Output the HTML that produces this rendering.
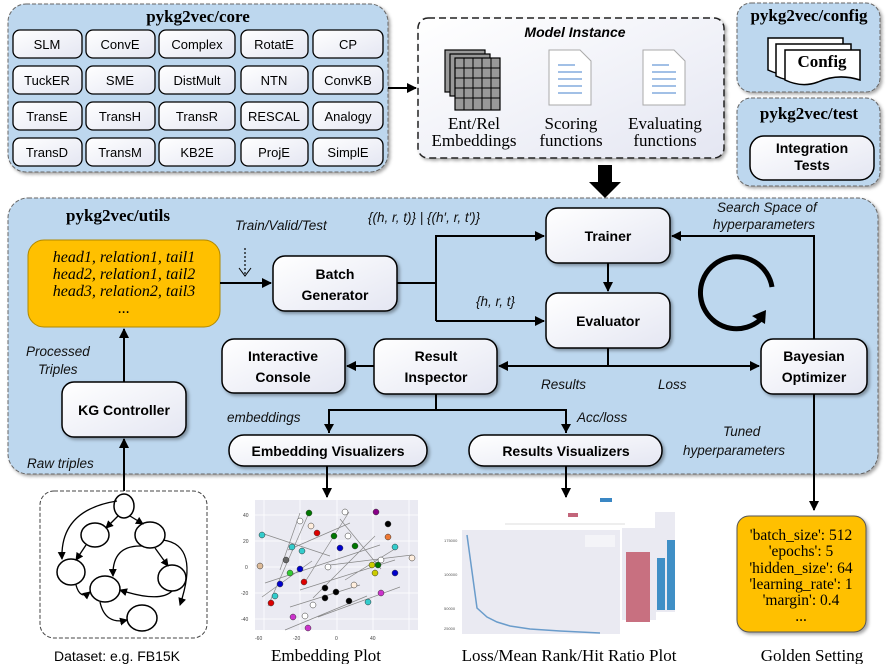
<!DOCTYPE html>
<html><head><meta charset="utf-8"><style>
html,body{margin:0;padding:0;background:#fff;}
svg{display:block;}
.b{font-family:"Liberation Sans",sans-serif;font-weight:bold;font-size:14px;fill:#000;}
.n{font-family:"Liberation Sans",sans-serif;font-size:13px;fill:#000;}
.s{font-family:"Liberation Serif",serif;font-weight:bold;font-size:17px;fill:#000;}
.i{font-family:"Liberation Sans",sans-serif;font-style:italic;font-size:13.5px;fill:#111;}
.sr{font-family:"Liberation Serif",serif;font-size:17px;fill:#000;}
</style></head><body>
<svg width="886" height="664" viewBox="0 0 886 664" xmlns="http://www.w3.org/2000/svg">
<defs>
<marker id="a" markerWidth="10" markerHeight="10" refX="9" refY="5" orient="auto" markerUnits="userSpaceOnUse"><path d="M0,0 L10,5 L0,10 z" fill="#000"/></marker>
<marker id="sa" markerWidth="8" markerHeight="8" refX="7" refY="4" orient="auto" markerUnits="userSpaceOnUse"><path d="M0,0 L8,4 L0,8 z" fill="#000"/></marker>
<linearGradient id="g" x1="0" y1="0" x2="1" y2="1"><stop offset="0" stop-color="#fff"/><stop offset="1" stop-color="#e4e6f2"/></linearGradient>
<filter id="sh" x="-10%" y="-10%" width="130%" height="130%"><feDropShadow dx="2" dy="2" stdDeviation="1.5" flood-color="#000" flood-opacity="0.35"/></filter>
</defs>

<rect x="8" y="4" width="380" height="168" rx="18" fill="#bdd7ee" stroke="#666" stroke-dasharray="4,2" filter="url(#sh)"/>
<text x="198" y="22" text-anchor="middle" class="s">pykg2vec/core</text>
<g stroke="#000" stroke-width="1.3" fill="url(#g)">
<rect x="13" y="30" width="69" height="28" rx="7"/><rect x="86" y="30" width="69" height="28" rx="7"/><rect x="159" y="30" width="76" height="28" rx="7"/><rect x="241" y="30" width="67" height="28" rx="7"/><rect x="313" y="30" width="70" height="28" rx="7"/>
<rect x="13" y="66" width="69" height="28" rx="7"/><rect x="86" y="66" width="69" height="28" rx="7"/><rect x="159" y="66" width="76" height="28" rx="7"/><rect x="241" y="66" width="67" height="28" rx="7"/><rect x="313" y="66" width="70" height="28" rx="7"/>
<rect x="13" y="102" width="69" height="28" rx="7"/><rect x="86" y="102" width="69" height="28" rx="7"/><rect x="159" y="102" width="76" height="28" rx="7"/><rect x="241" y="102" width="67" height="28" rx="7"/><rect x="313" y="102" width="70" height="28" rx="7"/>
<rect x="13" y="138" width="69" height="28" rx="7"/><rect x="86" y="138" width="69" height="28" rx="7"/><rect x="159" y="138" width="76" height="28" rx="7"/><rect x="241" y="138" width="67" height="28" rx="7"/><rect x="313" y="138" width="70" height="28" rx="7"/>
</g>
<g class="n" text-anchor="middle">
<text x="47" y="49">SLM</text><text x="120" y="49">ConvE</text><text x="197" y="49">Complex</text><text x="274" y="49">RotatE</text><text x="348" y="49">CP</text>
<text x="47" y="85">TuckER</text><text x="120" y="85">SME</text><text x="197" y="85">DistMult</text><text x="274" y="85">NTN</text><text x="348" y="85">ConvKB</text>
<text x="47" y="121">TransE</text><text x="120" y="121">TransH</text><text x="197" y="121">TransR</text><text x="274" y="121">RESCAL</text><text x="348" y="121">Analogy</text>
<text x="47" y="157">TransD</text><text x="120" y="157">TransM</text><text x="197" y="157">KB2E</text><text x="274" y="157">ProjE</text><text x="348" y="157">SimplE</text>
</g>
<line x1="388" y1="88" x2="416" y2="88" stroke="#000" stroke-width="2" marker-end="url(#a)"/>

<rect x="418" y="18" width="306" height="140" rx="10" fill="url(#g)" stroke="#222" stroke-width="1.5" stroke-dasharray="7,4" filter="url(#sh)"/>
<text x="575" y="37" text-anchor="middle" style="font-family:'Liberation Sans',sans-serif;font-weight:bold;font-style:italic;font-size:14px">Model Instance</text>
<g stroke="#000" stroke-width="1.2" fill="#999">
<rect x="445" y="50" width="40" height="42"/><rect x="450" y="54" width="40" height="42"/><rect x="455" y="58" width="45" height="52"/>
</g>
<g stroke="#000" stroke-width="1">
<path d="M464,58V110M473,58V110M482,58V110M491,58V110M455,68H500M455,78H500M455,88H500M455,98H500"/>
</g>
<g stroke="#aaa" fill="#fff">
<path d="M549,50 H580 L591,61 V105 H549 Z"/><path d="M643,50 H674 L685,61 V105 H643 Z"/>
</g>
<g stroke="#6b9bd8" stroke-width="1.2">
<path d="M558,65H575M558,72H582M558,79H582M558,86H582M558,93H582"/>
<path d="M652,65H669M652,72H676M652,79H676M652,86H676M652,93H676"/>
</g>
<g class="sr" text-anchor="middle">
<text x="474" y="129">Ent/Rel</text><text x="474" y="146">Embeddings</text>
<text x="571" y="129">Scoring</text><text x="571" y="146">functions</text>
<text x="665" y="129">Evaluating</text><text x="665" y="146">functions</text>
</g>

<rect x="737" y="3" width="143" height="89" rx="14" fill="#bdd7ee" stroke="#666" stroke-dasharray="4,2" filter="url(#sh)"/>
<text x="809" y="21" text-anchor="middle" class="s">pykg2vec/config</text>
<g stroke="#000" stroke-width="1.5" fill="#fff">
<path d="M768,38 H843 V70 Q820,63 800,72 Q785,78 768,70 Z"/>
<path d="M776,44 H851 V76 Q828,69 808,78 Q793,84 776,76 Z"/>
<path d="M785,50 H860 V80 Q838,73 818,82 Q802,88 785,80 Z"/>
</g>
<text x="822" y="67" text-anchor="middle" class="s">Config</text>

<rect x="737" y="98" width="143" height="88" rx="14" fill="#bdd7ee" stroke="#666" stroke-dasharray="4,2" filter="url(#sh)"/>
<text x="809" y="119" text-anchor="middle" class="s">pykg2vec/test</text>
<rect x="750" y="136" width="124" height="44" rx="14" fill="url(#g)" stroke="#000" stroke-width="1.5"/>
<text x="812" y="153" text-anchor="middle" class="b">Integration</text>
<text x="812" y="170" text-anchor="middle" class="b">Tests</text>

<path d="M598,165 H612 V182 H621 L605,198 L589,182 H598 Z" fill="#000"/>

<rect x="8" y="198" width="870" height="276" rx="20" fill="#bdd7ee" stroke="#666" stroke-dasharray="4,2" filter="url(#sh)"/>
<text x="118" y="221" text-anchor="middle" class="s">pykg2vec/utils</text>

<rect x="28" y="240" width="192" height="87" rx="16" fill="#ffc000" stroke="#b08800"/>
<g text-anchor="middle" style="font-family:'Liberation Serif',serif;font-style:italic;font-size:16px">
<text x="124" y="262">head1, relation1, tail1</text>
<text x="124" y="279">head2, relation1, tail2</text>
<text x="124" y="296">head3, relation2, tail3</text>
<text x="124" y="313">...</text>
</g>

<g stroke="#000" stroke-width="1.5" fill="url(#g)" filter="url(#sh)">
<rect x="273" y="256" width="124" height="55" rx="12"/>
<rect x="546" y="208" width="124" height="55" rx="12"/>
<rect x="546" y="293" width="124" height="55" rx="12"/>
<rect x="222" y="339" width="123" height="54" rx="12"/>
<rect x="374" y="339" width="123" height="55" rx="12"/>
<rect x="761" y="339" width="106" height="55" rx="12"/>
<rect x="62" y="382" width="124" height="55" rx="12"/>
<rect x="229" y="435" width="198" height="31" rx="15"/>
<rect x="469" y="435" width="193" height="31" rx="15"/>
</g>
<g class="b" text-anchor="middle">
<text x="335" y="279">Batch</text><text x="335" y="300">Generator</text>
<text x="608" y="241">Trainer</text>
<text x="608" y="326">Evaluator</text>
<text x="283" y="361">Interactive</text><text x="283" y="382">Console</text>
<text x="436" y="361">Result</text><text x="436" y="382">Inspector</text>
<text x="814" y="361">Bayesian</text><text x="814" y="382">Optimizer</text>
<text x="124" y="415">KG Controller</text>
<text x="328" y="456">Embedding Visualizers</text>
<text x="566" y="456">Results Visualizers</text>
</g>

<g stroke="#000" stroke-width="2" fill="none">
<line x1="220" y1="283" x2="271" y2="283" marker-end="url(#a)"/>
<polyline points="397,283 436,283"/>
<polyline points="436,321 436,236 544,236" marker-end="url(#a)"/>
<polyline points="436,321 544,321" marker-end="url(#a)"/>
<line x1="608" y1="263" x2="608" y2="291" marker-end="url(#a)"/>
<line x1="608" y1="348" x2="608" y2="366"/>
<line x1="608" y1="366" x2="499" y2="366" marker-end="url(#a)"/>
<line x1="608" y1="366" x2="759" y2="366" marker-end="url(#a)"/>
<polyline points="814,339 814,236 672,236" marker-end="url(#a)"/>
<line x1="814" y1="394" x2="814" y2="510" marker-end="url(#a)"/>
<line x1="374" y1="366" x2="347" y2="366" marker-end="url(#a)"/>
<line x1="436" y1="394" x2="436" y2="410"/>
<polyline points="329,433 329,410 566,410 566,433"/>
<line x1="124" y1="382" x2="124" y2="329" marker-end="url(#a)"/>
<line x1="124" y1="495" x2="124" y2="439" marker-end="url(#a)"/>
<line x1="327" y1="466" x2="327" y2="497" marker-end="url(#a)"/>
<line x1="566" y1="466" x2="566" y2="497" marker-end="url(#a)"/>
</g>
<path d="M329,433 l-5,-9 h10z M566,433 l-5,-9 h10z" fill="#000"/>
<line x1="245" y1="248" x2="245" y2="275" stroke="#000" stroke-width="1.2" stroke-dasharray="2,2"/>
<path d="M239,268 L245,276 L251,268" stroke="#000" fill="none"/>
<path d="M772,287 A36,36 0 1 0 760,320" stroke="#000" stroke-width="5" fill="none"/>
<path d="M752,316 L766,310 L765,324 Z" fill="#000"/>

<g class="i">
<text x="235" y="230">Train/Valid/Test</text>
<text x="368" y="222">{(h, r, t)} | {(h′, r, t′)}</text>
<text x="476" y="306">{h, r, t}</text>
<text x="717" y="212">Search Space of</text>
<text x="713" y="229">hyperparameters</text>
<text x="541" y="389">Results</text>
<text x="658" y="389">Loss</text>
<text x="227" y="422">embeddings</text>
<text x="577" y="422">Acc/loss</text>
<text x="723" y="436">Tuned</text>
<text x="683" y="455">hyperparameters</text>
<text x="26" y="356">Processed</text>
<text x="38" y="374">Triples</text>
<text x="27" y="468">Raw triples</text>
</g>

<rect x="40" y="491" width="167" height="147" rx="14" fill="#fff" stroke="#444" stroke-dasharray="4,2"/>
<g stroke="#000" stroke-width="1.5" fill="#fff">
<ellipse cx="124" cy="506" rx="10" ry="12"/>
<ellipse cx="95" cy="535" rx="14" ry="12"/>
<ellipse cx="150" cy="535" rx="15" ry="13"/>
<ellipse cx="71" cy="572" rx="14" ry="13"/>
<ellipse cx="105" cy="589" rx="15" ry="13"/>
<ellipse cx="172" cy="578" rx="14" ry="13"/>
<ellipse cx="142" cy="618" rx="15" ry="13"/>
</g>
<g stroke="#000" stroke-width="1.3" fill="none" marker-end="url(#sa)">
<path d="M118,516 L106,528"/>
<path d="M130,516 L143,524"/>
<path d="M86,545 L76,560"/>
<path d="M117,501 Q60,510 62,559"/>
<path d="M155,548 L168,566"/>
<path d="M142,546 Q112,545 113,576"/>
<path d="M76,585 Q80,600 90,592"/>
<path d="M172,591 Q160,603 120,590"/>
<path d="M100,602 Q105,625 127,620"/>
<path d="M163,540 Q200,545 180,605"/>
</g>
<text x="117" y="661" text-anchor="middle" style="font-family:'Liberation Sans',sans-serif;font-size:14px">Dataset: e.g. FB15K</text>

<rect x="255" y="500" width="163" height="130" fill="#eaeaf2"/>
<g stroke="#fff" stroke-width="0.8"><path d="M255,515H418M255,541H418M255,567H418M255,593H418M255,619H418M264,500V630M300,500V630M337,500V630M373,500V630M409,500V630"/></g>
<g stroke="#888" stroke-width="0.7">
<path d="M261,533L330,556M300,513L280,570M349,512L305,582M288,550L350,523M308,515L268,606M375,536L313,598M380,545L265,583M330,565L412,555M300,590L395,560M285,630L367,596M318,617L400,587M360,585L290,607M398,547L345,580M262,597L312,561M340,519L381,569"/>
</g>
<g stroke="#333" stroke-width="0.5">
<circle cx="262" cy="535" r="3" fill="#3cc"/><circle cx="309" cy="513" r="3" fill="#070"/><circle cx="300" cy="521" r="3" fill="#fff"/><circle cx="311" cy="526" r="3" fill="#fed"/><circle cx="317" cy="533" r="3" fill="#d00"/><circle cx="345" cy="512" r="3" fill="#fff"/><circle cx="376" cy="512" r="3" fill="#808"/><circle cx="388" cy="524" r="3" fill="#000"/><circle cx="292" cy="547" r="3" fill="#3cc"/><circle cx="348" cy="536" r="3" fill="#fff"/><circle cx="355" cy="546" r="3" fill="#070"/><circle cx="340" cy="548" r="3" fill="#00c"/><circle cx="302" cy="551" r="3" fill="#3cc"/><circle cx="388" cy="537" r="3" fill="#e73"/><circle cx="395" cy="547" r="3" fill="#3cc"/><circle cx="412" cy="558" r="3" fill="#fed"/><circle cx="260" cy="566" r="3" fill="#db9"/><circle cx="300" cy="569" r="3" fill="#00c"/><circle cx="290" cy="573" r="3" fill="#3c3"/><circle cx="328" cy="567" r="3" fill="#fff"/><circle cx="372" cy="565" r="3" fill="#cc0"/><circle cx="381" cy="560" r="3" fill="#fff"/><circle cx="375" cy="573" r="3" fill="#cc0"/><circle cx="395" cy="573" r="3" fill="#00c"/><circle cx="280" cy="584" r="3" fill="#00c"/><circle cx="304" cy="582" r="3" fill="#d00"/><circle cx="325" cy="588" r="3" fill="#000"/><circle cx="336" cy="592" r="3" fill="#000"/><circle cx="354" cy="585" r="3" fill="#fed"/><circle cx="275" cy="596" r="3" fill="#3cc"/><circle cx="325" cy="598" r="3" fill="#000"/><circle cx="349" cy="601" r="3" fill="#000"/><circle cx="271" cy="603" r="3" fill="#d00"/><circle cx="313" cy="605" r="3" fill="#fff"/><circle cx="368" cy="602" r="3" fill="#3cc"/><circle cx="381" cy="593" r="3" fill="#c3c"/><circle cx="305" cy="616" r="3" fill="#fff"/><circle cx="293" cy="617" r="3" fill="#c3c"/><circle cx="308" cy="628" r="3" fill="#c3c"/><circle cx="378" cy="565" r="3" fill="#070"/><circle cx="334" cy="536" r="3" fill="#070"/><circle cx="286" cy="560" r="3" fill="#666"/>
</g>
<g style="font-family:'Liberation Sans',sans-serif;font-size:5px" fill="#444"><text x="243" y="517">40</text><text x="243" y="543">20</text><text x="245" y="569">0</text><text x="241" y="595">-20</text><text x="241" y="621">-40</text><text x="255" y="640">-60</text><text x="293" y="640">-20</text><text x="335" y="640">0</text><text x="370" y="640">40</text></g>
<text x="326" y="661" text-anchor="middle" class="sr">Embedding Plot</text>

<rect x="600" y="498" width="12" height="4" fill="#3a87c4"/>
<rect x="568" y="513" width="10" height="4" fill="#c3657a"/>
<rect x="505" y="523" width="120" height="2" fill="#eee"/>
<rect x="622" y="528" width="34" height="92" fill="#eaeaf2"/>
<rect x="626" y="552" width="24" height="70" fill="#c87080"/>
<rect x="655" y="512" width="20" height="100" fill="#eaeaf2"/>
<rect x="657" y="558" width="8" height="52" fill="#3f8fc6"/>
<rect x="667" y="540" width="8" height="70" fill="#3f8fc6"/>
<rect x="462" y="530" width="158" height="104" fill="#eaeaf2"/>
<path d="M467,535 L477,608 L487,617 L497,622 L510,626 L530,629 L560,631 L600,633" stroke="#6a9ccb" stroke-width="1.5" fill="none"/>
<rect x="585" y="535" width="30" height="12" fill="#f4f4f8"/>
<g style="font-family:'Liberation Sans',sans-serif;font-size:4px" fill="#555"><text x="444" y="542">175000</text><text x="444" y="576">100000</text><text x="444" y="610">50000</text><text x="444" y="630">25000</text></g>
<text x="569" y="661" text-anchor="middle" class="sr">Loss/Mean Rank/Hit Ratio Plot</text>

<rect x="737" y="516" width="129" height="116" rx="12" fill="#ffc000" stroke="#555" filter="url(#sh)"/>
<g text-anchor="middle" style="font-family:'Liberation Serif',serif;font-size:15.5px">
<text x="801" y="540">'batch_size': 512</text>
<text x="801" y="556">'epochs': 5</text>
<text x="801" y="573">'hidden_size': 64</text>
<text x="801" y="589">'learning_rate': 1</text>
<text x="801" y="605">'margin': 0.4</text>
<text x="801" y="621">...</text>
</g>
<text x="812" y="661" text-anchor="middle" class="sr">Golden Setting</text>
</svg>
</body></html>
